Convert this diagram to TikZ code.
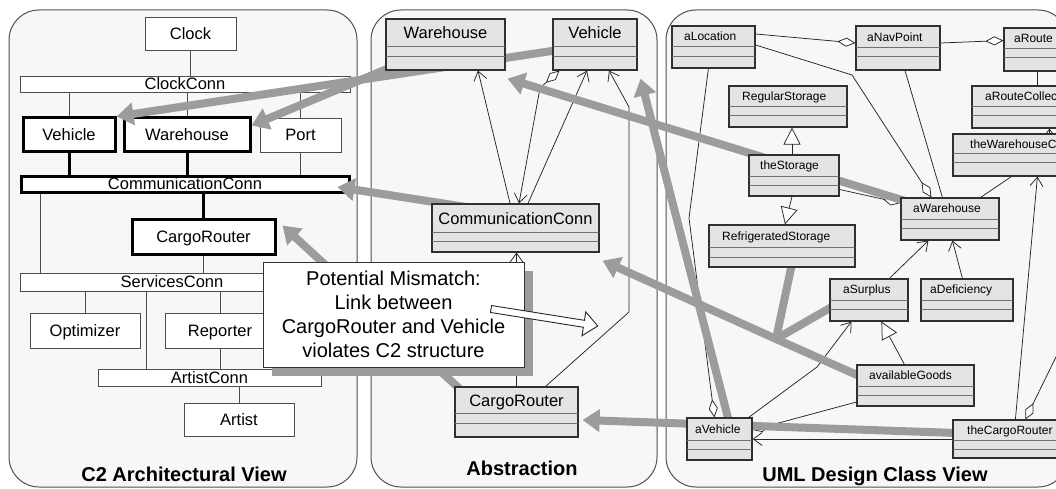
\documentclass[tikz,border=0pt]{standalone}
\usepackage{fontspec}
\setmainfont{Liberation Sans}
\usetikzlibrary{arrows.meta,calc,fit,shadows}

\pgfdeclarelayer{bg}
\pgfdeclarelayer{leftdiag}
\pgfdeclarelayer{wires}
\pgfdeclarelayer{traces}
\pgfsetlayers{bg,leftdiag,wires,traces,main}

\definecolor{panelfill}{HTML}{F7F7F7}
\definecolor{paneledge}{HTML}{505050}
\definecolor{clsfill}{HTML}{E4E4E4}
\definecolor{clsedge}{HTML}{303030}
\definecolor{clsdiv}{HTML}{707070}
\definecolor{tracegray}{HTML}{9C9C9C}
\definecolor{wire}{HTML}{262626}

\tikzset{
  panel/.style={draw=paneledge, line width=1pt, fill=panelfill, rounded corners=30pt},
  compfont/.style={font=\fontsize{16.5}{18}\selectfont, text depth=0pt, inner sep=0pt},
  compbox/.style={draw=black!70, line width=0.9pt, fill=white, inner sep=0pt},
  hotbox/.style={draw=black, line width=3pt, fill=white, inner sep=0pt},
  thinlink/.style={draw=black!70, line width=0.9pt},
  hotlink/.style={draw=black, line width=3pt},
  cls/.style={draw=clsedge, line width=1.2pt, fill=clsfill, inner sep=0pt},
  clsdivider/.style={draw=clsdiv, line width=1pt},
  midfont/.style={font=\fontsize{16.5}{18}\selectfont, inner sep=0pt},
  umlfont/.style={font=\fontsize{12}{14}\selectfont, inner sep=0pt},
  assoc/.style={draw=wire, line width=0.75pt},
  nav/.style={assoc, arrows={-Straight Barb[length=9pt,width=13pt]}},
  navsmall/.style={assoc, arrows={-Straight Barb[length=4pt,width=6pt]}},
  aggend/.style={assoc, arrows={-Diamond[fill=white,length=18pt,width=9pt]}},
  aggstart/.style={assoc, arrows={Diamond[fill=white,length=18pt,width=9pt]-}},
  aggnav/.style={assoc, arrows={Diamond[fill=white,length=18pt,width=9pt]-Straight Barb[length=9pt,width=13pt]}},
  gen/.style={assoc, arrows={-Triangle[fill=white,length=17pt,width=17pt]}},
  trace/.style={draw=tracegray, line width=8pt, line join=round, arrows={-Triangle[length=17pt,width=22pt]}},
  tracebranch/.style={draw=tracegray, line width=8pt, line cap=round},
  note/.style={draw=black!80, line width=0.9pt, fill=white, minimum width=261pt,
    minimum height=105pt, align=center, font=\fontsize{20}{24}\selectfont,
    drop shadow={shadow xshift=9pt, shadow yshift=-9pt, fill=tracegray, opacity=1}},
  titlefont/.style={font=\bfseries\fontsize{20}{24}\selectfont, inner sep=0pt},
}

% component or connector of the C2 view: style, name, x1, y1, x2, y2, label
\newcommand\cbox[7]{%
  \node[#1, fit={(#3,#4) (#5,#6)}] (#2) {};
  \node[compfont] (#2-label) at (#2.center) {#7};
}
% class box of the abstraction view: name, x1, y1, x2, y2, first and second divider, label
\newcommand\midcls[8]{%
  \node[cls, fit={(#2,#3) (#4,#5)}] (#1) {};
  \draw[clsdivider] (#2,#3+#6) -- (#4,#3+#6);
  \draw[clsdivider] (#2,#3+#7) -- (#4,#3+#7);
  \node[midfont, anchor=base] (#1-name) at ({(#2+#4)/2},{#3+#6/2+6}) {#8};
}
% class box of the design view: same, plus the x of the label
\newcommand\rcls[9]{%
  \node[cls, fit={(#2,#3) (#4,#5)}] (#1) {};
  \draw[clsdivider] (#2,#3+#6) -- (#4,#3+#6);
  \draw[clsdivider] (#2,#3+#7) -- (#4,#3+#7);
  \node[umlfont, anchor=base west] (#1-name) at (#8,{#3+#6/2+4.3}) {#9};
}

\begin{document}
\begin{tikzpicture}[x=1pt,y=-1pt]
\useasboundingbox (0,0) rectangle (1056,489);

% ---------- the three views ----------
\begin{pgfonlayer}{bg}
  \fill[white] (0,0) rectangle (1056,489);
  \draw[panel] (9,10) rectangle (357,487);
  \draw[panel] (371,10) rectangle (657,487);
  \draw[panel] (666,10) rectangle (1068,487);
\end{pgfonlayer}

% ---------- C2 architecture ----------
\begin{pgfonlayer}{leftdiag}
  \cbox{compbox}{lClock}{145}{17}{236}{50}{Clock}
  \cbox{compbox}{lClockConn}{20}{76}{350}{92}{ClockConn}
  \cbox{hotbox}{lVeh}{23}{118}{115}{152}{Vehicle}
  \cbox{hotbox}{lWar}{124}{118}{250}{152}{Warehouse}
  \cbox{compbox}{lPort}{260}{118}{341}{152}{Port}
  \cbox{hotbox}{lComm}{21}{176}{349}{192}{CommunicationConn}
  \cbox{hotbox}{lCargo}{132}{219}{275}{254}{CargoRouter}
  \cbox{compbox}{lServ}{20}{273}{324}{291}{ServicesConn}
  \cbox{compbox}{lOpt}{30}{313}{140}{348}{Optimizer}
  \cbox{compbox}{lRep}{165}{313}{275}{348}{Reporter}
  \cbox{compbox}{lArtConn}{98}{369}{321}{386}{ArtistConn}
  \cbox{compbox}{lArt}{184}{403}{294}{436}{Artist}

  \draw[thinlink] (lClock.south) -- (lClock.south |- lClockConn.north);
  \draw[thinlink] (lVeh.north |- lClockConn.south) -- (lVeh.north);
  \draw[thinlink] (lWar.north |- lClockConn.south) -- (lWar.north);
  \draw[thinlink] (lPort.north |- lClockConn.south) -- (lPort.north);
  \draw[hotlink] (lVeh.south) -- (lVeh.south |- lComm.north);
  \draw[hotlink] (lWar.south) -- (lWar.south |- lComm.north);
  \draw[thinlink] (lPort.south) -- (lPort.south |- lComm.north);
  \draw[hotlink] (lCargo.north |- lComm.south) -- (lCargo.north);
  \coordinate (busL) at ([xshift=21pt]lComm.south west);
  \draw[thinlink] (busL) -- (busL |- lServ.north);
  \draw[thinlink] (lCargo.south) -- (lCargo.south |- lServ.north);
  \draw[thinlink] (lOpt.north |- lServ.south) -- (lOpt.north);
  \draw[thinlink] (lRep.north |- lServ.south) -- (lRep.north);
  \coordinate (busA) at (146,300);
  \draw[thinlink] (busA |- lServ.south) -- (busA |- lArtConn.north);
  \draw[thinlink] (lRep.south) -- (lRep.south |- lArtConn.north);
  \draw[thinlink] (lArt.north |- lArtConn.south) -- (lArt.north);
\end{pgfonlayer}

% ---------- abstraction classes ----------
\midcls{mWar}{386}{19}{505}{70}{28}{38}{Warehouse}
\midcls{mVeh}{553}{19}{637}{70}{28}{38}{Vehicle}
\midcls{mComm}{432}{204}{599}{252}{28}{37}{CommunicationConn}
\midcls{mCargo}{455}{387}{578}{437}{26}{36}{CargoRouter}

% ---------- design classes ----------
\rcls{rLoc}{672}{26}{755}{68}{21}{31}{684}{aLocation}
\rcls{rNav}{856}{26}{940}{70}{22}{31}{867}{aNavPoint}
\rcls{rRoute}{1004}{28}{1080}{71}{21}{30}{1014}{aRoute}
\rcls{rRColl}{972}{86}{1080}{128}{21}{30}{985}{aRouteCollection}
\rcls{rWhC}{953}{134}{1080}{176}{20}{29}{970}{theWarehouseCollection}
\rcls{rReg}{729}{86}{847}{127}{21}{30}{742}{RegularStorage}
\rcls{rStor}{749}{155}{839}{196}{21}{30}{760}{theStorage}
\rcls{rRefr}{709}{225}{855}{267}{22}{32}{722}{RefrigeratedStorage}
\rcls{rWar}{901}{198}{999}{240}{21}{30}{913}{aWarehouse}
\rcls{rSurp}{830}{279}{908}{321}{21}{30}{843}{aSurplus}
\rcls{rDef}{921}{279}{1013}{321}{21}{30}{930}{aDeficiency}
\rcls{rAvail}{857}{365}{974}{406}{21}{30}{869}{availableGoods}
\rcls{rVeh}{687}{418}{752}{460}{22}{31}{695}{aVehicle}
\rcls{rCargoR}{953}{420}{1080}{458}{20}{29}{967}{theCargoRouter}

% ---------- class relations ----------
\begin{pgfonlayer}{wires}
  \draw[nav] ([xshift=-5.5pt]mComm.north) -- ([xshift=32.5pt]mWar.south);
  \draw[aggnav] ([xshift=7pt]mVeh.south west) -- (540,88) -- ([xshift=3.5pt]mComm.north);
  \draw[nav] ([xshift=12.5pt]mComm.north) -- ([xshift=-8pt]mVeh.south);
  \draw[nav] ([xshift=-33pt]mCargo.north east) -- (629,312) -- (629,107) -- ([xshift=14pt]mVeh.south);
  \draw[nav] (mCargo.north) -- (mCargo.north |- mComm.south);

  \draw[aggend] ([yshift=13pt]rLoc.east) -- ([yshift=5pt]rNav.west);
  \draw[aggend] ([yshift=5pt]rNav.east) -- ([yshift=9pt]rRoute.west);
  \coordinate (routeDown) at ([xshift=34pt]rRoute.south west);
  \draw[assoc] (routeDown) -- (routeDown |- rRColl.north);
  \draw[aggend] ([yshift=2pt]rLoc.east) -- (852,75) -- ([xshift=31pt]rWar.north west);
  \draw[assoc] ([xshift=7pt]rNav.south) -- ([xshift=42pt]rWar.north west);
  \draw[aggend] ([yshift=-14pt]rStor.east) -- ([yshift=16pt]rWar.west);
  \coordinate (storUp) at ([xshift=-2pt]rStor.north);
  \draw[gen] (storUp) -- (storUp |- rReg.south);
  \draw[gen] ([xshift=-2pt]rStor.south) -- ([xshift=3pt]rRefr.north);
  \draw[assoc] ([xshift=-19pt]rWar.north east) -- ([xshift=59pt]rWhC.south west);
  \draw[navsmall] ([xshift=97pt]rWhC.north west) -- ([xshift=78pt]rRColl.south west);
  \draw[nav] ([xshift=63pt]rCargoR.north west) -- ([xshift=85pt]rWhC.south west);
  \coordinate (offEdge) at (1076,316);
  \draw[aggstart] ([xshift=73pt]rCargoR.north west) -- (offEdge);
  \draw[aggend] ([xshift=37pt]rLoc.south west) -- (689,218) -- ([xshift=28pt]rVeh.north west);
  \draw[nav] ([xshift=-4pt]rVeh.north east) -- (817,367) -- ([xshift=22pt]rSurp.south west);
  \draw[aggend] ([yshift=-16.5pt]rAvail.west) -- ([yshift=9pt]rVeh.east);
  \draw[nav] (rCargoR.west) -- (rVeh.east);
  \draw[nav] ([xshift=60pt]rSurp.north west) -- ([xshift=28pt]rWar.south west);
  \draw[nav] ([xshift=42pt]rDef.north west) -- ([xshift=52pt]rWar.south west);
  \draw[gen] ([xshift=48pt]rAvail.north west) -- ([xshift=52pt]rSurp.south west);
\end{pgfonlayer}

% ---------- trace links between the views ----------
\begin{pgfonlayer}{traces}
  \draw[trace] (mVeh.center) -- (lVeh.north east);
  \draw[trace] (mWar.center) -- ([yshift=9.5pt]lWar.east);
  \draw[trace] ([xshift=50pt,yshift=-6pt]mComm.north west) -- ([xshift=-13pt,yshift=-3pt]lComm.east);
  \draw[trace] ([xshift=8pt,yshift=-5pt]mCargo.north west) -- ([xshift=6pt,yshift=-8pt]lCargo.north east);
  \draw[trace] ([xshift=6pt,yshift=-4pt]rWar.north west) -- ([xshift=2pt,yshift=-8pt]mWar.south east);
  \coordinate (merge) at (776,339);
  \draw[tracebranch] ([xshift=10pt,yshift=4pt]rRefr.south) -- (merge);
  \draw[tracebranch] ([xshift=4pt,yshift=-6pt]rSurp.west) -- (merge);
  \draw[trace] ([xshift=4pt,yshift=9pt]rAvail.west) -- (merge) -- ([xshift=3pt,yshift=-8pt]mComm.south east);
  \draw[trace] ([xshift=43pt,yshift=-6pt]rVeh.north west) -- ([xshift=3pt,yshift=-8pt]mVeh.south east);
  \draw[trace] ([xshift=4pt,yshift=6pt]rCargoR.west) -- ([xshift=4pt,yshift=-8pt]mCargo.east);
\end{pgfonlayer}

% ---------- remark ----------
\node[note] (note) at (393.5,314.5)
  {Potential Mismatch:\\Link between\\CargoRouter and Vehicle\\violates C2 structure};
\filldraw[fill=white, draw=black!85, line width=0.9pt]
  (491.55,305.54) -- (584.45,320.34) -- (585.8,311.9) -- (597.7,326)
  -- (582.0,335.7) -- (583.35,327.26) -- (490.45,312.46) -- cycle;

% ---------- view titles ----------
\node[titlefont, anchor=base] (tLeft) at (184,481) {C2 Architectural View};
\node[titlefont, anchor=base] (tMid) at (522,475) {Abstraction};
\node[titlefont, anchor=base] (tRight) at (875,481) {UML Design Class View};
\end{tikzpicture}
\end{document}
